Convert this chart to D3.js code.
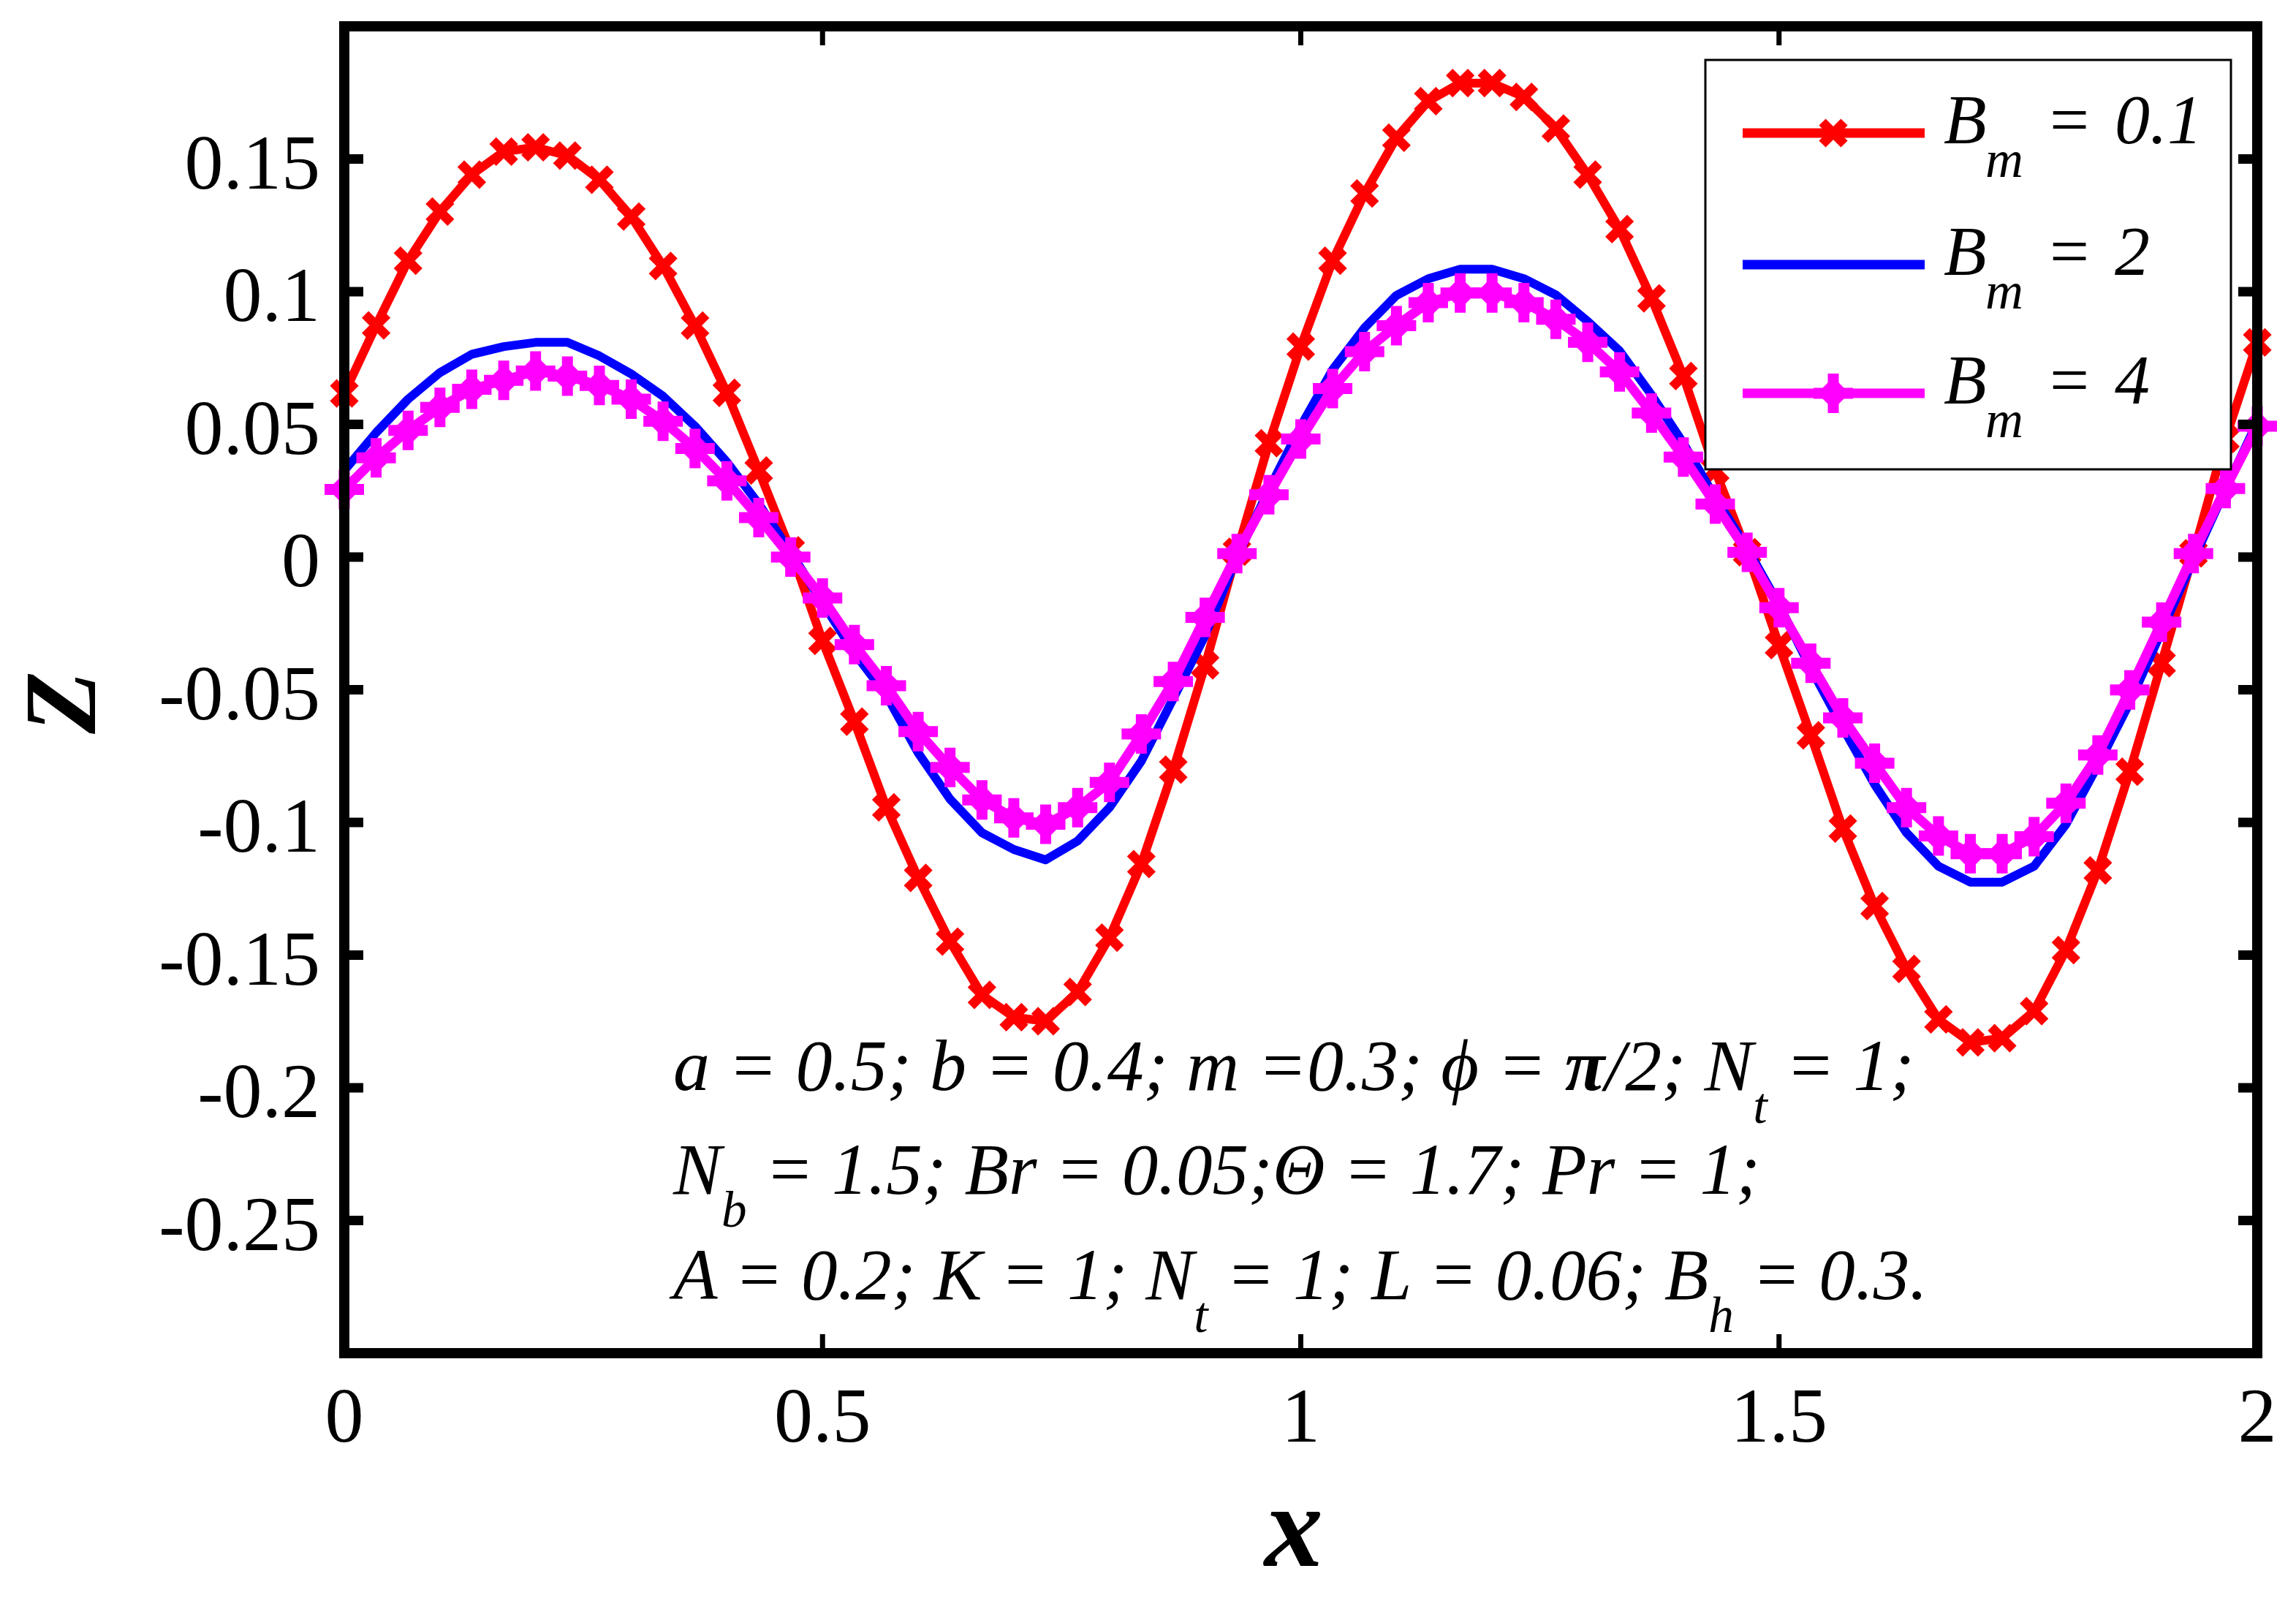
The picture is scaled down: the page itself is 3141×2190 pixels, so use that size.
<!DOCTYPE html>
<html>
<head>
<meta charset="utf-8">
<script src="https://cdn.jsdelivr.net/npm/d3@7/dist/d3.min.js"></script>
<style>
  html, body { margin: 0; padding: 0; background: #fff; }
  svg { display: block; }
  text { font-family: "Liberation Serif", "Times New Roman", serif; }
</style>
</head>
<body>
<svg id="chart" width="3141" height="2190"></svg>
<script>
// ---------------- DATA ----------------
const xValues = [0, 0.0333, 0.0667, 0.1, 0.1333, 0.1667, 0.2, 0.2333, 0.2667, 0.3,
  0.3333, 0.3667, 0.4, 0.4333, 0.4667, 0.5, 0.5333, 0.5667, 0.6, 0.6333,
  0.6667, 0.7, 0.7333, 0.7667, 0.8, 0.8333, 0.8667, 0.9, 0.9333, 0.9667,
  1, 1.0333, 1.0667, 1.1, 1.1333, 1.1667, 1.2, 1.2333, 1.2667, 1.3,
  1.3333, 1.3667, 1.4, 1.4333, 1.4667, 1.5, 1.5333, 1.5667, 1.6, 1.6333,
  1.6667, 1.7, 1.7333, 1.7667, 1.8, 1.8333, 1.8667, 1.9, 1.9333, 1.9667, 2];

const zBm01 = [0.0617, 0.0873, 0.1117, 0.1302, 0.1441, 0.1528, 0.1544, 0.1513, 0.1422, 0.1283,
  0.1097, 0.0872, 0.0619, 0.0326, 0.0025, -0.0316, -0.0620, -0.0943, -0.1209, -0.1449,
  -0.1650, -0.1734, -0.1749, -0.1639, -0.1434, -0.1157, -0.0801, -0.0408, 0.0020, 0.0429,
  0.0793, 0.1117, 0.1370, 0.1580, 0.1718, 0.1786, 0.1786, 0.1734, 0.1615, 0.1441,
  0.1236, 0.0975, 0.0682, 0.0326, 0.0018, -0.0332, -0.0672, -0.1023, -0.1315, -0.1552,
  -0.1742, -0.1829, -0.1813, -0.1711, -0.1481, -0.1181, -0.0809, -0.0400, 0.0014, 0.0445, 0.0809];

const zBm2 = [0.0326, 0.0469, 0.0595, 0.0695, 0.0764, 0.0793, 0.0809, 0.0809, 0.0758, 0.0690,
  0.0606, 0.0493, 0.0358, 0.0200, 0.0018, -0.0172, -0.0361, -0.0520, -0.0738, -0.0912,
  -0.1039, -0.1102, -0.1141, -0.1070, -0.0944, -0.0769, -0.0533, -0.0295, 0.0000, 0.0255,
  0.0493, 0.0706, 0.0864, 0.0986, 0.1049, 0.1085, 0.1085, 0.1049, 0.0988, 0.0888,
  0.0777, 0.0611, 0.0429, 0.0224, 0.0034, -0.0180, -0.0420, -0.0643, -0.0857, -0.1039,
  -0.1165, -0.1225, -0.1225, -0.1165, -0.1007, -0.0785, -0.0548, -0.0279, -0.0010, 0.0255, 0.0508];

const zBm4 = [0.0255, 0.0374, 0.0477, 0.0564, 0.0632, 0.0666, 0.0701, 0.0682, 0.0647, 0.0595,
  0.0512, 0.0409, 0.0287, 0.0149, 0.0000, -0.0154, -0.0330, -0.0485, -0.0658, -0.0793,
  -0.0915, -0.0983, -0.1007, -0.0944, -0.0849, -0.0667, -0.0469, -0.0227, 0.0013, 0.0235,
  0.0445, 0.0635, 0.0774, 0.0872, 0.0959, 0.0995, 0.0995, 0.0959, 0.0896, 0.0809,
  0.0698, 0.0543, 0.0377, 0.0200, 0.0018, -0.0191, -0.0400, -0.0606, -0.0777, -0.0944,
  -0.1051, -0.1118, -0.1118, -0.1054, -0.0928, -0.0746, -0.0501, -0.0245, 0.0013, 0.0258, 0.0493];

const seriesNames = ["0.1", "2", "4"];
const xTicks = [0, 0.5, 1, 1.5, 2];
const xTickLabels = ["0", "0.5", "1", "1.5", "2"];
const yTicks = [0.15, 0.1, 0.05, 0, -0.05, -0.1, -0.15, -0.2, -0.25];
const yTickLabels = ["0.15", "0.1", "0.05", "0", "-0.05", "-0.1", "-0.15", "-0.2", "-0.25"];

// ---------------- LAYOUT ----------------
const svg = d3.select("#chart");
const L = 471, R = 3088, T = 36, B = 1851;
const x = d3.scaleLinear().domain([0, 2]).range([L, R]);
const y = d3.scaleLinear().domain([-0.3, 0.2]).range([B, T]);

const series = [
  { name: seriesNames[0], values: zBm01, color: "#ff0000", width: 12, marker: "x" },
  { name: seriesNames[1], values: zBm2, color: "#0000ff", width: 12, marker: null },
  { name: seriesNames[2], values: zBm4, color: "#ff00ff", width: 13, marker: "plusdiamond" }
];

const line = d3.line().x((d, i) => x(xValues[i])).y(d => y(d));

function drawMarker(g, kind, cx, cy, color) {
  if (kind === "x") {
    const h = 15;
    g.append("path")
      .attr("d", `M${cx - h},${cy - h}L${cx + h},${cy + h}M${cx - h},${cy + h}L${cx + h},${cy - h}`)
      .attr("stroke", color).attr("stroke-width", 13).attr("fill", "none");
  } else if (kind === "plusdiamond") {
    const h = 27;
    g.append("path")
      .attr("d", `M${cx - h},${cy}L${cx + h},${cy}M${cx},${cy - h}L${cx},${cy + h}`)
      .attr("stroke", color).attr("stroke-width", 15).attr("fill", "none");
    const dd = 22;
    g.append("path")
      .attr("d", `M${cx},${cy - dd}L${cx + dd},${cy}L${cx},${cy + dd}L${cx - dd},${cy}Z`)
      .attr("fill", color);
  }
}

const plotG = svg.append("g");
series.forEach(s => {
  plotG.append("path")
    .attr("d", line(s.values))
    .attr("fill", "none")
    .attr("stroke", s.color)
    .attr("stroke-width", s.width)
    .attr("stroke-linejoin", "round");
  if (s.marker) {
    const mg = plotG.append("g");
    s.values.forEach((v, i) => drawMarker(mg, s.marker, x(xValues[i]), y(v), s.color));
  }
});

// ---------------- AXES FRAME & TICKS ----------------
const axG = svg.append("g");
xTicks.forEach(t => {
  if (t === 0 || t === 2) return;
  axG.append("line").attr("x1", x(t)).attr("x2", x(t)).attr("y1", B).attr("y2", B - 26)
    .attr("stroke", "#000").attr("stroke-width", 7);
  axG.append("line").attr("x1", x(t)).attr("x2", x(t)).attr("y1", T).attr("y2", T + 26)
    .attr("stroke", "#000").attr("stroke-width", 7);
});
yTicks.forEach(t => {
  axG.append("line").attr("x1", L).attr("x2", L + 26).attr("y1", y(t)).attr("y2", y(t))
    .attr("stroke", "#000").attr("stroke-width", 13);
  axG.append("line").attr("x1", R).attr("x2", R - 26).attr("y1", y(t)).attr("y2", y(t))
    .attr("stroke", "#000").attr("stroke-width", 13);
});
axG.append("rect").attr("x", L).attr("y", T).attr("width", R - L).attr("height", B - T)
  .attr("fill", "none").attr("stroke", "#000").attr("stroke-width", 14);

// tick labels
xTicks.forEach((t, i) => {
  axG.append("text").attr("x", x(t)).attr("y", 1972).attr("text-anchor", "middle")
    .attr("font-size", 106).text(xTickLabels[i]);
});
yTicks.forEach((t, i) => {
  axG.append("text").attr("x", 438).attr("y", y(t) + 40).attr("text-anchor", "end")
    .attr("font-size", 106).text(yTickLabels[i]);
});

// axis titles
svg.append("text").attr("x", 1770).attr("y", 2142).attr("text-anchor", "middle")
  .attr("font-size", 160).attr("font-weight", "bold").attr("font-style", "italic").text("x");
svg.append("text").attr("transform", "translate(130,961) rotate(-90)").attr("text-anchor", "middle")
  .attr("font-size", 140).attr("font-weight", "bold").attr("font-style", "italic").text("Z");

// ---------------- LEGEND ----------------
const lg = svg.append("g");
lg.append("rect").attr("x", 2333).attr("y", 82).attr("width", 3052 - 2333).attr("height", 642 - 82)
  .attr("fill", "#fff").attr("stroke", "#000").attr("stroke-width", 3);
const legendRows = [182, 362, 538];
series.forEach((s, i) => {
  const yy = legendRows[i];
  lg.append("line").attr("x1", 2384).attr("x2", 2633).attr("y1", yy).attr("y2", yy)
    .attr("stroke", s.color).attr("stroke-width", 13);
  if (s.marker) drawMarker(lg, s.marker, 2508, yy, s.color);
  const base = yy + 14;
  lg.append("text").attr("x", 2659).attr("y", base).attr("font-size", 96)
    .attr("font-style", "italic").text("B");
  lg.append("text").attr("x", 2716).attr("y", base + 46).attr("font-size", 72)
    .attr("font-style", "italic").text("m");
  lg.append("text").attr("x", 2804).attr("y", base).attr("font-size", 96).text("=");
  lg.append("text").attr("x", 2893).attr("y", base).attr("font-size", 96)
    .attr("font-style", "italic").text(s.name);
});

// ---------------- ANNOTATION ----------------
const annLines = [
  { base: 1491, right: 2619, parts: [
    { t: "a = 0.5; b = 0.4; m =0.3; ϕ = " }, { t: "π", bold: true }, { t: "/2; N" }, { t: "t", sub: true }, { t: " = 1;" } ] },
  { base: 1633, right: 2409, parts: [
    { t: "N" }, { t: "b", sub: true }, { t: " = 1.5; Br = 0.05;Θ = 1.7; Pr = 1;" } ] },
  { base: 1777, right: 2643, parts: [
    { t: "A = 0.2; K = 1; N" }, { t: "t", sub: true }, { t: " = 1; L = 0.06; B" }, { t: "h", sub: true }, { t: " = 0.3." } ] }
];
const annX = 921;
annLines.forEach(ln => {
  const g = svg.append("g");
  const txt = g.append("text").attr("x", annX).attr("y", ln.base).attr("font-size", 100)
    .attr("font-style", "italic").style("white-space", "pre");
  let inSub = false;
  ln.parts.forEach(p => {
    const ts = txt.append("tspan").text(p.t);
    if (p.sub) { ts.attr("font-size", 70).attr("dy", 45); inSub = true; }
    else if (inSub) { ts.attr("dy", -45); inSub = false; }
    if (p.bold) ts.attr("font-weight", "bold");
  });
  const bb = txt.node().getBBox();
  const sx = (ln.right - annX) / bb.width;
  g.attr("transform", `translate(${annX},0) scale(${sx},1) translate(${-annX},0)`);
});
</script>
</body>
</html>
